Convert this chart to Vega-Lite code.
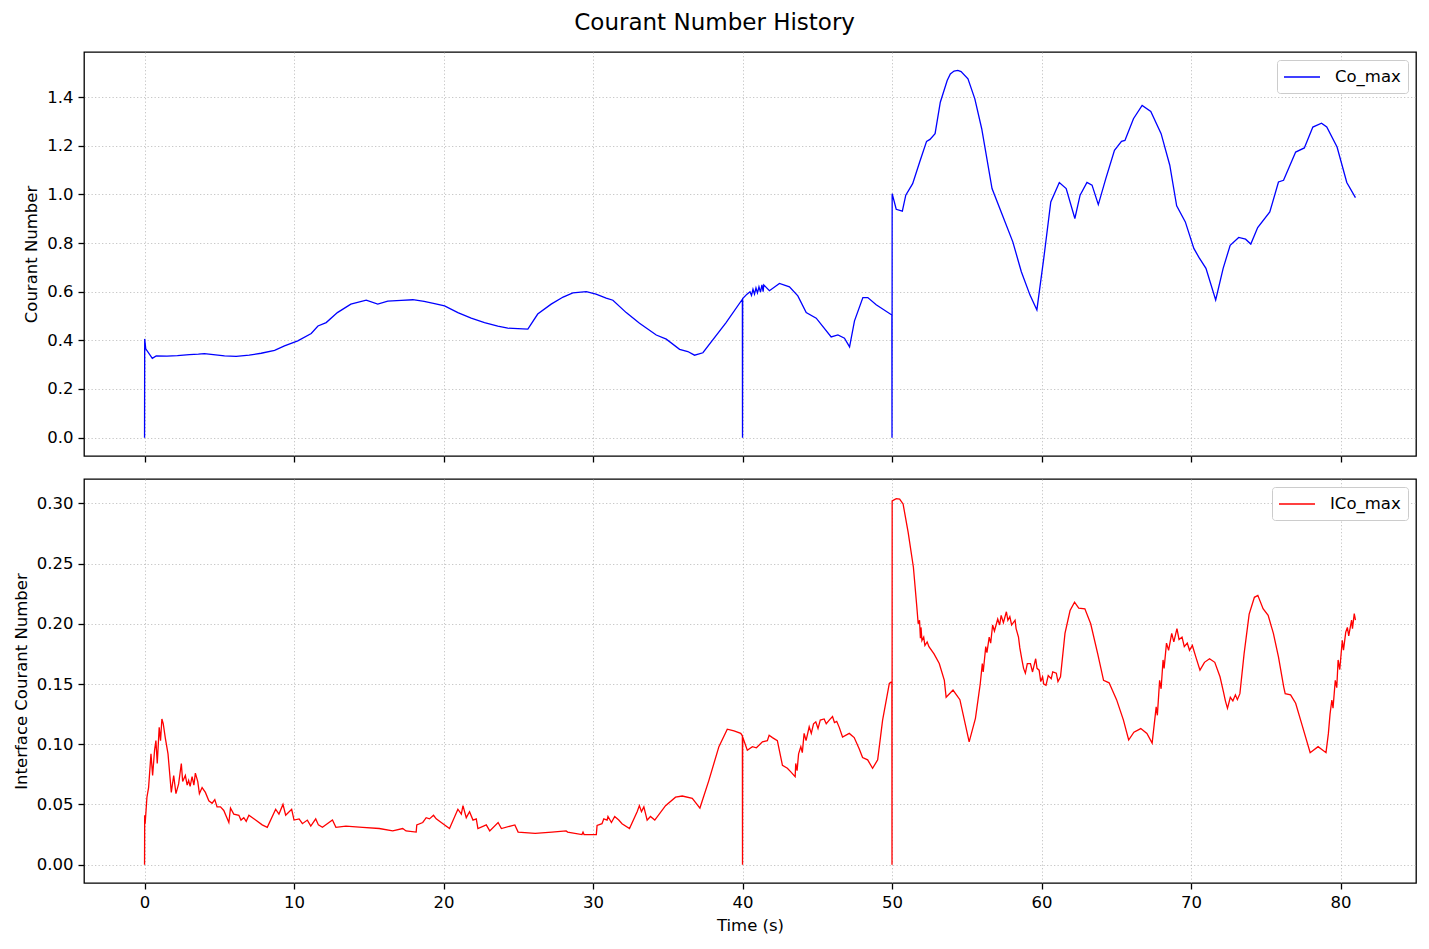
{
  "$schema": "https://vega.github.io/schema/vega-lite/v6.json",
  "description": "Courant number history: Co_max (top) and ICo_max (bottom) against simulation time.",
  "padding": {"left": 12, "top": 12, "right": 12, "bottom": 12},
  "title": {
    "text": "Courant Number History",
    "font": "DejaVu Sans",
    "fontSize": 23,
    "fontWeight": "normal",
    "color": "black",
    "anchor": "middle",
    "frame": "bounds",
    "offset": 16
  },
  "datasets": {
    "co": [
      {"t": 0, "v": 0}, {"t": 0.01, "v": 0.406}, {"t": 0.08, "v": 0.365}, {"t": 0.52, "v": 0.326},
      {"t": 0.78, "v": 0.336}, {"t": 1.5, "v": 0.335}, {"t": 2.2, "v": 0.337}, {"t": 3.0, "v": 0.341},
      {"t": 3.6, "v": 0.343}, {"t": 4.0, "v": 0.345}, {"t": 4.6, "v": 0.341}, {"t": 5.35, "v": 0.336},
      {"t": 6.13, "v": 0.334}, {"t": 7.0, "v": 0.339}, {"t": 7.8, "v": 0.347}, {"t": 8.7, "v": 0.359},
      {"t": 9.36, "v": 0.377}, {"t": 10.25, "v": 0.398}, {"t": 11.15, "v": 0.428}, {"t": 11.6, "v": 0.459},
      {"t": 12.15, "v": 0.473}, {"t": 12.9, "v": 0.514}, {"t": 13.8, "v": 0.549}, {"t": 14.83, "v": 0.565},
      {"t": 15.6, "v": 0.549}, {"t": 16.27, "v": 0.561}, {"t": 17.17, "v": 0.564}, {"t": 17.95, "v": 0.567},
      {"t": 18.7, "v": 0.56}, {"t": 19.4, "v": 0.551}, {"t": 20.07, "v": 0.542}, {"t": 20.96, "v": 0.514},
      {"t": 21.85, "v": 0.491}, {"t": 22.74, "v": 0.473}, {"t": 23.63, "v": 0.458}, {"t": 24.3, "v": 0.45},
      {"t": 24.97, "v": 0.448}, {"t": 25.64, "v": 0.446}, {"t": 26.3, "v": 0.508}, {"t": 27.2, "v": 0.549},
      {"t": 28.0, "v": 0.578}, {"t": 28.65, "v": 0.595}, {"t": 29.55, "v": 0.6}, {"t": 30.2, "v": 0.59},
      {"t": 30.88, "v": 0.574}, {"t": 31.33, "v": 0.565}, {"t": 32.22, "v": 0.514}, {"t": 33.11, "v": 0.47},
      {"t": 34.23, "v": 0.422}, {"t": 34.9, "v": 0.405}, {"t": 35.79, "v": 0.363}, {"t": 36.34, "v": 0.354},
      {"t": 36.79, "v": 0.339}, {"t": 37.35, "v": 0.349}, {"t": 38.9, "v": 0.473}, {"t": 39.99, "v": 0.569},
      {"t": 40.0, "v": 0}, {"t": 40.01, "v": 0.572}, {"t": 40.3, "v": 0.59}, {"t": 40.5, "v": 0.6},
      {"t": 40.6, "v": 0.585}, {"t": 40.7, "v": 0.61}, {"t": 40.8, "v": 0.59}, {"t": 40.9, "v": 0.615},
      {"t": 41.0, "v": 0.595}, {"t": 41.1, "v": 0.62}, {"t": 41.2, "v": 0.598}, {"t": 41.3, "v": 0.628},
      {"t": 41.38, "v": 0.6}, {"t": 41.42, "v": 0.628}, {"t": 41.8, "v": 0.604}, {"t": 42.47, "v": 0.634},
      {"t": 43.14, "v": 0.62}, {"t": 43.7, "v": 0.583}, {"t": 44.26, "v": 0.514}, {"t": 44.93, "v": 0.491},
      {"t": 45.93, "v": 0.414}, {"t": 46.38, "v": 0.422}, {"t": 46.82, "v": 0.409}, {"t": 47.16, "v": 0.373},
      {"t": 47.49, "v": 0.48}, {"t": 48.05, "v": 0.576}, {"t": 48.38, "v": 0.576}, {"t": 48.94, "v": 0.546},
      {"t": 49.99, "v": 0.504}, {"t": 50.0, "v": 0}, {"t": 50.01, "v": 1.003}, {"t": 50.28, "v": 0.939},
      {"t": 50.69, "v": 0.931}, {"t": 50.92, "v": 0.997}, {"t": 51.38, "v": 1.044}, {"t": 51.85, "v": 1.133},
      {"t": 52.31, "v": 1.218}, {"t": 52.54, "v": 1.226}, {"t": 52.88, "v": 1.25}, {"t": 53.23, "v": 1.379},
      {"t": 53.69, "v": 1.468}, {"t": 53.9, "v": 1.495}, {"t": 54.15, "v": 1.507}, {"t": 54.4, "v": 1.51},
      {"t": 54.62, "v": 1.505}, {"t": 55.08, "v": 1.475}, {"t": 55.54, "v": 1.393}, {"t": 56.0, "v": 1.27},
      {"t": 56.69, "v": 1.024}, {"t": 57.38, "v": 0.915}, {"t": 58.08, "v": 0.805}, {"t": 58.65, "v": 0.682},
      {"t": 59.23, "v": 0.586}, {"t": 59.69, "v": 0.525}, {"t": 60.15, "v": 0.737}, {"t": 60.62, "v": 0.969},
      {"t": 61.19, "v": 1.049}, {"t": 61.65, "v": 1.024}, {"t": 62.23, "v": 0.901}, {"t": 62.58, "v": 0.997},
      {"t": 63.04, "v": 1.049}, {"t": 63.38, "v": 1.038}, {"t": 63.8, "v": 0.958}, {"t": 64.3, "v": 1.065},
      {"t": 64.88, "v": 1.181}, {"t": 65.35, "v": 1.218}, {"t": 65.58, "v": 1.222}, {"t": 66.15, "v": 1.311},
      {"t": 66.73, "v": 1.366}, {"t": 67.31, "v": 1.341}, {"t": 68.0, "v": 1.25}, {"t": 68.58, "v": 1.12},
      {"t": 69.04, "v": 0.953}, {"t": 69.62, "v": 0.887}, {"t": 70.19, "v": 0.778}, {"t": 70.54, "v": 0.74},
      {"t": 71.0, "v": 0.696}, {"t": 71.65, "v": 0.566}, {"t": 72.15, "v": 0.696}, {"t": 72.62, "v": 0.791},
      {"t": 73.19, "v": 0.823}, {"t": 73.65, "v": 0.816}, {"t": 74.0, "v": 0.796}, {"t": 74.46, "v": 0.864},
      {"t": 75.27, "v": 0.928}, {"t": 75.85, "v": 1.051}, {"t": 76.19, "v": 1.058}, {"t": 77.0, "v": 1.174},
      {"t": 77.58, "v": 1.191}, {"t": 78.15, "v": 1.277}, {"t": 78.73, "v": 1.293}, {"t": 79.08, "v": 1.277},
      {"t": 79.77, "v": 1.195}, {"t": 80.42, "v": 1.049}, {"t": 81.0, "v": 0.987}
    ],
    "ico": [
      {"t": 0, "v": 0}, {"t": 0.01, "v": 0.041}, {"t": 0.04, "v": 0.034}, {"t": 0.16, "v": 0.056},
      {"t": 0.27, "v": 0.064}, {"t": 0.43, "v": 0.092}, {"t": 0.54, "v": 0.074}, {"t": 0.67, "v": 0.095},
      {"t": 0.76, "v": 0.103}, {"t": 0.85, "v": 0.084}, {"t": 0.98, "v": 0.114}, {"t": 1.07, "v": 0.103},
      {"t": 1.16, "v": 0.121}, {"t": 1.25, "v": 0.117}, {"t": 1.39, "v": 0.105}, {"t": 1.57, "v": 0.092},
      {"t": 1.79, "v": 0.06}, {"t": 1.95, "v": 0.074}, {"t": 2.1, "v": 0.059}, {"t": 2.28, "v": 0.067},
      {"t": 2.46, "v": 0.084}, {"t": 2.55, "v": 0.069}, {"t": 2.73, "v": 0.074}, {"t": 2.85, "v": 0.066},
      {"t": 2.95, "v": 0.07}, {"t": 3.05, "v": 0.065}, {"t": 3.18, "v": 0.073}, {"t": 3.3, "v": 0.066},
      {"t": 3.4, "v": 0.076}, {"t": 3.56, "v": 0.069}, {"t": 3.67, "v": 0.059}, {"t": 3.85, "v": 0.064},
      {"t": 4.07, "v": 0.06}, {"t": 4.3, "v": 0.053}, {"t": 4.52, "v": 0.051}, {"t": 4.7, "v": 0.054},
      {"t": 4.85, "v": 0.048}, {"t": 5.08, "v": 0.048}, {"t": 5.3, "v": 0.045}, {"t": 5.64, "v": 0.035},
      {"t": 5.75, "v": 0.047}, {"t": 5.97, "v": 0.042}, {"t": 6.31, "v": 0.041}, {"t": 6.45, "v": 0.037},
      {"t": 6.64, "v": 0.039}, {"t": 6.8, "v": 0.036}, {"t": 6.98, "v": 0.041}, {"t": 7.43, "v": 0.037},
      {"t": 7.87, "v": 0.033}, {"t": 8.21, "v": 0.031}, {"t": 8.77, "v": 0.046}, {"t": 8.99, "v": 0.042},
      {"t": 9.26, "v": 0.05}, {"t": 9.44, "v": 0.041}, {"t": 9.84, "v": 0.046}, {"t": 10.0, "v": 0.037},
      {"t": 10.34, "v": 0.038}, {"t": 10.56, "v": 0.034}, {"t": 10.89, "v": 0.037}, {"t": 11.12, "v": 0.032},
      {"t": 11.45, "v": 0.038}, {"t": 11.63, "v": 0.033}, {"t": 11.9, "v": 0.031}, {"t": 12.57, "v": 0.037},
      {"t": 12.8, "v": 0.031}, {"t": 13.47, "v": 0.032}, {"t": 14.59, "v": 0.031}, {"t": 15.7, "v": 0.03},
      {"t": 16.6, "v": 0.028}, {"t": 17.27, "v": 0.03}, {"t": 17.49, "v": 0.028}, {"t": 18.17, "v": 0.027},
      {"t": 18.21, "v": 0.033}, {"t": 18.61, "v": 0.035}, {"t": 18.84, "v": 0.039}, {"t": 19.06, "v": 0.038},
      {"t": 19.33, "v": 0.041}, {"t": 19.51, "v": 0.038}, {"t": 19.96, "v": 0.034}, {"t": 20.4, "v": 0.03},
      {"t": 20.96, "v": 0.046}, {"t": 21.19, "v": 0.042}, {"t": 21.3, "v": 0.049}, {"t": 21.52, "v": 0.039},
      {"t": 21.74, "v": 0.044}, {"t": 21.97, "v": 0.037}, {"t": 22.19, "v": 0.038}, {"t": 22.3, "v": 0.03},
      {"t": 22.86, "v": 0.033}, {"t": 23.09, "v": 0.028}, {"t": 23.65, "v": 0.035}, {"t": 23.87, "v": 0.03},
      {"t": 24.77, "v": 0.033}, {"t": 24.99, "v": 0.027}, {"t": 26.13, "v": 0.026}, {"t": 27.25, "v": 0.027},
      {"t": 28.2, "v": 0.028}, {"t": 28.3, "v": 0.027}, {"t": 29.26, "v": 0.025}, {"t": 29.33, "v": 0.027},
      {"t": 29.4, "v": 0.025}, {"t": 30.22, "v": 0.025}, {"t": 30.27, "v": 0.0325}, {"t": 30.6, "v": 0.034},
      {"t": 30.72, "v": 0.038}, {"t": 30.94, "v": 0.037}, {"t": 31.0, "v": 0.04}, {"t": 31.23, "v": 0.035},
      {"t": 31.45, "v": 0.04}, {"t": 31.72, "v": 0.037}, {"t": 31.94, "v": 0.034}, {"t": 32.44, "v": 0.03},
      {"t": 32.95, "v": 0.044}, {"t": 33.1, "v": 0.049}, {"t": 33.24, "v": 0.044}, {"t": 33.4, "v": 0.048},
      {"t": 33.62, "v": 0.037}, {"t": 33.84, "v": 0.04}, {"t": 34.13, "v": 0.037}, {"t": 34.85, "v": 0.049},
      {"t": 35.52, "v": 0.056}, {"t": 35.97, "v": 0.057}, {"t": 36.64, "v": 0.055}, {"t": 37.15, "v": 0.047},
      {"t": 37.75, "v": 0.07}, {"t": 38.42, "v": 0.098}, {"t": 38.98, "v": 0.1125}, {"t": 39.43, "v": 0.111},
      {"t": 39.88, "v": 0.109}, {"t": 39.99, "v": 0.107}, {"t": 40.0, "v": 0}, {"t": 40.01, "v": 0.106},
      {"t": 40.32, "v": 0.095}, {"t": 40.66, "v": 0.098}, {"t": 40.93, "v": 0.097}, {"t": 41.33, "v": 0.102},
      {"t": 41.66, "v": 0.103}, {"t": 41.78, "v": 0.1075}, {"t": 42.0, "v": 0.1055}, {"t": 42.33, "v": 0.103},
      {"t": 42.67, "v": 0.0825}, {"t": 43.0, "v": 0.08}, {"t": 43.23, "v": 0.077}, {"t": 43.52, "v": 0.073},
      {"t": 43.56, "v": 0.084}, {"t": 43.65, "v": 0.078}, {"t": 43.75, "v": 0.092}, {"t": 43.9, "v": 0.098},
      {"t": 44.0, "v": 0.093}, {"t": 44.12, "v": 0.109}, {"t": 44.25, "v": 0.103}, {"t": 44.46, "v": 0.1145},
      {"t": 44.6, "v": 0.109}, {"t": 44.75, "v": 0.117}, {"t": 44.9, "v": 0.1186}, {"t": 45.05, "v": 0.113},
      {"t": 45.2, "v": 0.12}, {"t": 45.46, "v": 0.121}, {"t": 45.6, "v": 0.117}, {"t": 45.8, "v": 0.12},
      {"t": 46.02, "v": 0.123}, {"t": 46.15, "v": 0.118}, {"t": 46.3, "v": 0.119}, {"t": 46.47, "v": 0.114},
      {"t": 46.69, "v": 0.106}, {"t": 47.14, "v": 0.109}, {"t": 47.47, "v": 0.1055}, {"t": 47.81, "v": 0.096},
      {"t": 48.03, "v": 0.089}, {"t": 48.37, "v": 0.087}, {"t": 48.7, "v": 0.08}, {"t": 49.04, "v": 0.087},
      {"t": 49.37, "v": 0.12}, {"t": 49.82, "v": 0.1505}, {"t": 49.99, "v": 0.152}, {"t": 50.0, "v": 0},
      {"t": 50.01, "v": 0.302}, {"t": 50.28, "v": 0.304}, {"t": 50.51, "v": 0.3036}, {"t": 50.74, "v": 0.2995},
      {"t": 51.08, "v": 0.276}, {"t": 51.43, "v": 0.247}, {"t": 51.66, "v": 0.214}, {"t": 51.75, "v": 0.2},
      {"t": 51.84, "v": 0.203}, {"t": 51.9, "v": 0.188}, {"t": 51.94, "v": 0.197}, {"t": 52.0, "v": 0.186},
      {"t": 52.12, "v": 0.189}, {"t": 52.2, "v": 0.182}, {"t": 52.35, "v": 0.185}, {"t": 52.47, "v": 0.181},
      {"t": 52.81, "v": 0.175}, {"t": 53.16, "v": 0.167}, {"t": 53.5, "v": 0.153}, {"t": 53.62, "v": 0.139},
      {"t": 54.08, "v": 0.145}, {"t": 54.54, "v": 0.137}, {"t": 55.16, "v": 0.102}, {"t": 55.58, "v": 0.1215},
      {"t": 55.81, "v": 0.142}, {"t": 55.9, "v": 0.15}, {"t": 56.04, "v": 0.167}, {"t": 56.1, "v": 0.16},
      {"t": 56.27, "v": 0.181}, {"t": 56.35, "v": 0.176}, {"t": 56.5, "v": 0.189}, {"t": 56.6, "v": 0.184},
      {"t": 56.73, "v": 0.199}, {"t": 56.85, "v": 0.194}, {"t": 57.07, "v": 0.204}, {"t": 57.2, "v": 0.199},
      {"t": 57.3, "v": 0.207}, {"t": 57.45, "v": 0.201}, {"t": 57.65, "v": 0.21}, {"t": 57.75, "v": 0.203},
      {"t": 57.88, "v": 0.206}, {"t": 58.0, "v": 0.199}, {"t": 58.23, "v": 0.203}, {"t": 58.3, "v": 0.196},
      {"t": 58.46, "v": 0.189}, {"t": 58.55, "v": 0.18}, {"t": 58.69, "v": 0.17}, {"t": 58.8, "v": 0.163},
      {"t": 58.92, "v": 0.159}, {"t": 59.05, "v": 0.167}, {"t": 59.26, "v": 0.167}, {"t": 59.4, "v": 0.16},
      {"t": 59.61, "v": 0.171}, {"t": 59.7, "v": 0.163}, {"t": 59.84, "v": 0.1615}, {"t": 59.95, "v": 0.152},
      {"t": 60.07, "v": 0.156}, {"t": 60.15, "v": 0.15}, {"t": 60.3, "v": 0.149}, {"t": 60.45, "v": 0.157},
      {"t": 60.65, "v": 0.1545}, {"t": 60.75, "v": 0.16}, {"t": 60.99, "v": 0.159}, {"t": 61.1, "v": 0.152},
      {"t": 61.27, "v": 0.156}, {"t": 61.57, "v": 0.192}, {"t": 61.91, "v": 0.211}, {"t": 62.21, "v": 0.218},
      {"t": 62.49, "v": 0.213}, {"t": 62.9, "v": 0.2125}, {"t": 63.29, "v": 0.2}, {"t": 63.76, "v": 0.175},
      {"t": 64.15, "v": 0.153}, {"t": 64.52, "v": 0.151}, {"t": 65.02, "v": 0.137}, {"t": 65.48, "v": 0.12},
      {"t": 65.83, "v": 0.1035}, {"t": 66.18, "v": 0.11}, {"t": 66.64, "v": 0.113}, {"t": 67.05, "v": 0.109},
      {"t": 67.4, "v": 0.101}, {"t": 67.67, "v": 0.131}, {"t": 67.75, "v": 0.124}, {"t": 67.9, "v": 0.153},
      {"t": 68.0, "v": 0.146}, {"t": 68.13, "v": 0.17}, {"t": 68.2, "v": 0.163}, {"t": 68.36, "v": 0.184},
      {"t": 68.5, "v": 0.178}, {"t": 68.71, "v": 0.192}, {"t": 68.85, "v": 0.185}, {"t": 69.06, "v": 0.196},
      {"t": 69.2, "v": 0.187}, {"t": 69.4, "v": 0.189}, {"t": 69.55, "v": 0.181}, {"t": 69.75, "v": 0.184},
      {"t": 69.9, "v": 0.178}, {"t": 70.09, "v": 0.182}, {"t": 70.32, "v": 0.1725}, {"t": 70.6, "v": 0.1615},
      {"t": 70.9, "v": 0.168}, {"t": 71.24, "v": 0.171}, {"t": 71.59, "v": 0.168}, {"t": 71.94, "v": 0.156},
      {"t": 72.17, "v": 0.1435}, {"t": 72.3, "v": 0.136}, {"t": 72.44, "v": 0.1298}, {"t": 72.63, "v": 0.139},
      {"t": 72.8, "v": 0.136}, {"t": 72.97, "v": 0.141}, {"t": 73.1, "v": 0.137}, {"t": 73.27, "v": 0.142},
      {"t": 73.55, "v": 0.175}, {"t": 73.89, "v": 0.208}, {"t": 74.24, "v": 0.222}, {"t": 74.47, "v": 0.2236},
      {"t": 74.82, "v": 0.2125}, {"t": 75.16, "v": 0.207}, {"t": 75.51, "v": 0.192}, {"t": 75.85, "v": 0.1725},
      {"t": 76.2, "v": 0.1477}, {"t": 76.3, "v": 0.142}, {"t": 76.66, "v": 0.141}, {"t": 77.0, "v": 0.134},
      {"t": 77.46, "v": 0.1146}, {"t": 77.97, "v": 0.093}, {"t": 78.5, "v": 0.098}, {"t": 79.03, "v": 0.093},
      {"t": 79.19, "v": 0.109}, {"t": 79.3, "v": 0.125}, {"t": 79.42, "v": 0.1367}, {"t": 79.5, "v": 0.13},
      {"t": 79.65, "v": 0.153}, {"t": 79.75, "v": 0.147}, {"t": 79.84, "v": 0.17}, {"t": 79.95, "v": 0.162},
      {"t": 80.12, "v": 0.1863}, {"t": 80.2, "v": 0.178}, {"t": 80.35, "v": 0.193}, {"t": 80.46, "v": 0.197},
      {"t": 80.55, "v": 0.19}, {"t": 80.74, "v": 0.203}, {"t": 80.8, "v": 0.196}, {"t": 80.92, "v": 0.2084},
      {"t": 81.0, "v": 0.203}
    ]
  },
  "vconcat": [
    {
      "width": 1332,
      "height": 404,
      "data": {"name": "co"},
      "mark": {"type": "line", "strokeWidth": 1.3},
      "encoding": {
        "x": {
          "field": "t",
          "type": "quantitative",
          "scale": {"domain": [-4.05, 85.05], "nice": false, "zero": false},
          "axis": {"labels": false, "title": null, "values": [0, 10, 20, 30, 40, 50, 60, 70, 80]}
        },
        "y": {
          "field": "v",
          "type": "quantitative",
          "scale": {"domain": [-0.0755, 1.5855], "nice": false, "zero": false},
          "axis": {"title": "Courant Number", "values": [0, 0.2, 0.4, 0.6, 0.8, 1.0, 1.2, 1.4], "format": ".1f"}
        },
        "color": {"datum": "Co_max", "scale": {"range": ["#0000ff"]}, "legend": {"title": null}}
      }
    },
    {
      "width": 1332,
      "height": 404,
      "data": {"name": "ico"},
      "mark": {"type": "line", "strokeWidth": 1.3},
      "encoding": {
        "x": {
          "field": "t",
          "type": "quantitative",
          "scale": {"domain": [-4.05, 85.05], "nice": false, "zero": false},
          "axis": {"title": "Time (s)", "values": [0, 10, 20, 30, 40, 50, 60, 70, 80], "format": "d"}
        },
        "y": {
          "field": "v",
          "type": "quantitative",
          "scale": {"domain": [-0.01525, 0.32025], "nice": false, "zero": false},
          "axis": {"title": "Interface Courant Number", "values": [0, 0.05, 0.1, 0.15, 0.2, 0.25, 0.3], "format": ".2f"}
        },
        "color": {"datum": "ICo_max", "scale": {"range": ["#ff0000"]}, "legend": {"title": null}}
      }
    }
  ],
  "spacing": 14,
  "resolve": {"scale": {"color": "independent", "x": "independent"}},
  "config": {
    "font": "DejaVu Sans",
    "view": {"stroke": "black", "strokeWidth": 1.3},
    "axis": {
      "labelFont": "DejaVu Sans",
      "titleFont": "DejaVu Sans",
      "labelFontSize": 16.5,
      "titleFontSize": 16.5,
      "titleFontWeight": "normal",
      "labelColor": "black",
      "titleColor": "black",
      "domain": false,
      "tickColor": "black",
      "tickSize": 6,
      "tickWidth": 1.3,
      "labelPadding": 5,
      "titlePadding": 7,
      "gridColor": "#b0b0b0",
      "gridOpacity": 0.7,
      "gridDash": [1.3, 2.2],
      "gridWidth": 1
    },
    "legend": {
      "orient": "top-right",
      "offset": 8,
      "symbolType": "M-2,0H2",
      "symbolSize": 324,
      "symbolOffset": 8,
      "symbolStrokeWidth": 1.5,
      "labelFont": "DejaVu Sans",
      "labelFontSize": 16.5,
      "labelColor": "black",
      "labelOffset": 23,
      "padding": 7,
      "fillColor": "white",
      "strokeColor": "#cccccc",
      "cornerRadius": 3
    }
  }
}
